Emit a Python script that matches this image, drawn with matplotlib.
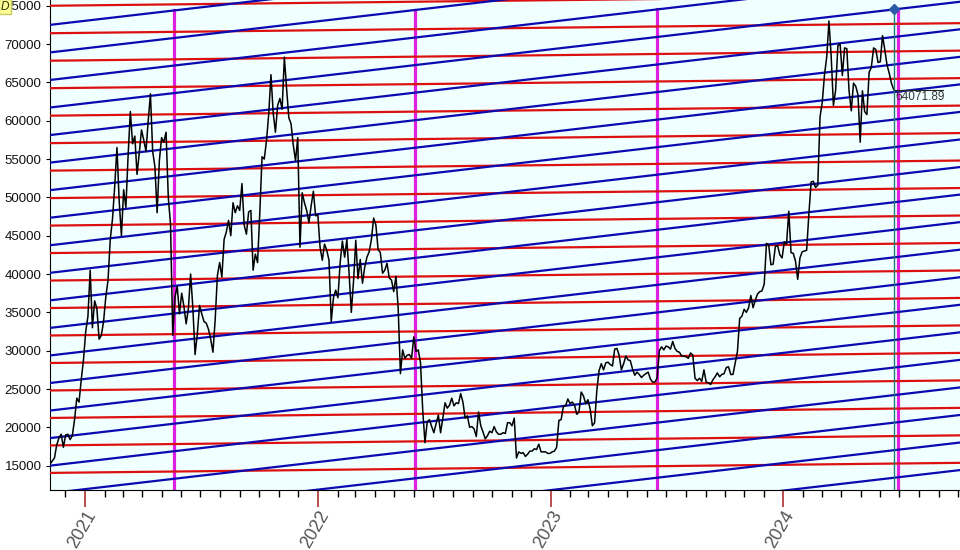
import numpy as np
import pandas as pd
import matplotlib
matplotlib.use("Agg")
import matplotlib.pyplot as plt
import matplotlib.dates as mdates

plt.rcParams['font.family'] = ['Liberation Sans', 'DejaVu Sans']

########################################################################
# price, two readings a week (Sat, Wed noon) from 2020-11-07
btc_2020 = [15200, 15600, 16000, 17700, 18600, 19100, 17400, 19000,
            19100, 18400, 18900, 21000, 23800, 23300, 26200, 28800]
btc_2021 = [32500, 34500, 40500, 33000, 36500, 35500, 31500, 32000,
            33800, 37000, 39200, 44500, 47200, 51500, 56500, 49500,
            45000, 51000, 48700, 55500, 61200, 57000, 58000, 53000,
            55800, 58800, 57500, 56000, 60000, 63500, 56000, 54000,
            48000, 54800, 57800, 57200, 58500, 50000, 46500, 32000,
            37000, 38400, 34800, 37500, 35800, 33500, 35500, 40000,
            35600, 29500, 32200, 35900, 34800, 33800, 33600, 32800,
            31500, 29800, 34000, 39800, 41500, 39600, 44500, 45500,
            47000, 45000, 49300, 48000, 48900, 48300, 51800, 46400,
            45200, 48100, 48300, 40500, 42600, 41500, 48000, 55300,
            55000, 57400, 60900, 66000, 61000, 58500, 62000, 62900,
            61500, 68300, 64200, 60400, 59600, 56800, 54800, 57800,
            43500, 50600, 49300, 48300, 46700, 48900, 50800, 47600]
btc_2022 = [47700, 43500, 41800, 43900, 43100, 41800, 33800, 36900,
            37900, 36900, 41500, 44300, 42200, 44500, 40100, 35000,
            39100, 44400, 39400, 41900, 38800, 40900, 42200, 42900,
            44500, 47300, 46400, 43200, 42800, 40100, 40500, 41400,
            39500, 39200, 37700, 39700, 35500, 27000, 30100, 29000,
            29400, 29500, 29000, 31800, 29900, 30100, 28400, 22200,
            18000, 20700, 21000, 20100, 19300, 20500, 21600, 19300,
            21200, 23200, 22500, 22900, 23800, 22800, 23200, 23100,
            24400, 23300, 21200, 21500, 20000, 20100, 19800, 18800,
            22000, 20200, 19400, 18500, 18900, 19500, 19300, 20100,
            19400, 19100, 19100, 19300, 19200, 20600, 20600, 20200,
            21200, 16000, 16800, 16600, 16700, 16200, 16500, 16900,
            16900, 17200, 17100, 17800, 16800, 16800, 16800, 16600,
            16600, 16800]
btc_2023 = [16900, 17400, 20900, 21000, 22700, 22800, 23700, 23100,
            23300, 22900, 21700, 22000, 24600, 24100, 23100, 23600,
            22400, 20200, 20600, 24800, 27400, 28300, 27500, 28400,
            28500, 28200, 28000, 30200, 30300, 29400, 27500, 28300,
            29300, 28800, 28700, 27600, 26800, 27200, 26900, 26500,
            26800, 27000, 27200, 26300, 25900, 25900, 26400, 30000,
            30500, 30100, 30600, 30500, 30200, 31200, 30300, 29900,
            29800, 29300, 29300, 29200, 29000, 29700, 29400, 26400,
            26100, 26400, 26000, 27500, 25900, 25800, 25600, 26200,
            26600, 27100, 26600, 26900, 27000, 27800, 27900, 26900,
            26900, 28400, 29900, 34200, 34500, 35400, 35000, 35600,
            37200, 35600, 36600, 37400, 37700, 37800, 38700, 44000,
            43800, 41200, 41300, 43600, 43700, 42500, 42100, 44200]
btc_2024 = [43900, 48200, 42800, 42700, 41700, 39300, 42100, 42900,
            43000, 43100, 47800, 52000, 52100, 51300, 51600, 60500,
            62400, 66000, 68300, 73000, 68400, 62000, 64000, 69800,
            70000, 65900, 69500, 69400, 63900, 61300, 64900, 64500,
            63400, 57200, 63900, 61200, 60800, 66300, 67000, 69500,
            69300, 67600, 67700, 71100, 69300, 67300, 66200, 64900,
            64071.89]
btc = btc_2020 + btc_2021 + btc_2022 + btc_2023 + btc_2024
last_price = btc[-1]

# grid lines: level at the left edge, drift per day
red_levels = [75000, 71415, 67830, 64245, 60660, 57075, 53490, 49905, 46320,
              42735, 39150, 35565, 31980, 28395, 24810, 21225, 17640, 14055]
red_slope = 0.92
blue_levels = [624, 4218, 7812, 11406, 15000, 18594, 22188, 25782, 29376,
               32970, 36564, 40158, 43752, 47346, 50940, 54534, 58128,
               61722, 65316, 68910, 72504]
blue_slope = 9.67

cycle_dates = ['2021-05-21', '2022-06-03', '2023-06-17', '2024-06-29']
cursor_date = '2024-06-22'

t_left = pd.Timestamp('2020-11-07')
t_right = pd.Timestamp('2024-10-04')
y_bottom, y_top = 11824, 75750
########################################################################

dates = pd.date_range(t_left, periods=len(btc), freq='84h')
span = (t_right - t_left).days

fig = plt.figure(figsize=(9.6, 5.5), dpi=100)
ax = fig.add_axes([50 / 960, 60 / 550, 910 / 960, 490 / 550])
ax.set_facecolor('#f0ffff')

def blue_at(day):
    d = (pd.Timestamp(day) - t_left).days
    vals = [b + blue_slope * d for b in blue_levels]
    return max(v for v in vals if v < y_top)

# magenta cycle lines, up to the blue line they meet
for cd in cycle_dates:
    t = pd.Timestamp(cd)
    ax.plot([t, t], [y_bottom, blue_at(t)], color='#e020e0', lw=2.3, zorder=2)

for lev in red_levels:
    ax.plot([t_left, t_right], [lev, lev + red_slope * span],
            color='#dd1010', lw=1.6, zorder=3)
for lev in blue_levels:
    ax.plot([t_left, t_right], [lev, lev + blue_slope * span],
            color='#0a0ab0', lw=1.6, zorder=3)

ax.plot(dates, btc, color='black', lw=1.1, zorder=5)

# cursor
cur = pd.Timestamp(cursor_date)
top = blue_at(cur)
ax.plot([cur, cur], [y_bottom, top], color='#207878', lw=1, zorder=6)
ax.plot([cur], [top], marker='D', ms=5, color='#2a5aa8', zorder=7)
ax.plot([cur, cur + pd.Timedelta(days=78)], [last_price, last_price],
        color='#222222', lw=0.8, zorder=6)
ax.text(cur + pd.Timedelta(days=3), last_price - 250, '%.2f' % last_price,
        fontsize=8.5, color='#333333', va='top', ha='left', zorder=6)

ax.set_xlim(t_left, t_right)
ax.set_ylim(y_bottom, y_top)

ax.xaxis.set_major_locator(mdates.YearLocator())
ax.xaxis.set_major_formatter(mdates.DateFormatter('%Y'))
ax.xaxis.set_minor_locator(mdates.MonthLocator())
ax.tick_params(axis='x', which='major', length=12, width=1.2, color='#b03030',
               labelsize=13, labelcolor='#555555', pad=1)
ax.tick_params(axis='x', which='minor', length=5, width=1, color='black')
for lab in ax.get_xticklabels():
    lab.set_rotation(60)
    lab.set_ha('right')
    lab.set_rotation_mode('anchor')

ax.set_yticks(np.arange(15000, 75001, 5000))
ax.tick_params(axis='y', length=3, labelsize=9.5, labelcolor='#111111', pad=3)

for s in ['top', 'right']:
    ax.spines[s].set_visible(False)
ax.spines['left'].set_color('black')
ax.spines['bottom'].set_color('black')

fig.text(0.001, 0.999, 'D', ha='left', va='top', fontsize=8.5, style='italic',
         color='#333300',
         bbox=dict(boxstyle='square,pad=0.15', fc='#ffff99', ec='#c8c860'))

fig.savefig('out.png', dpi=100)
